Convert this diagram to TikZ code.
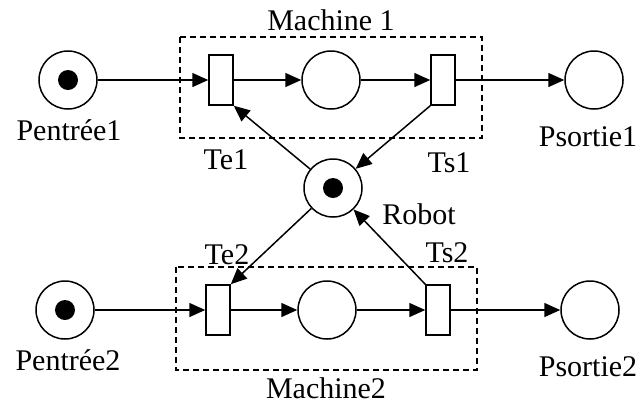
\documentclass[tikz,border=0pt]{standalone}
\usepackage{fontspec}
\setmainfont{Liberation Serif}
\newfontfamily\labelfont{Liberation Serif}
\usetikzlibrary{arrows.meta}
\begin{document}
\begin{tikzpicture}[x=0.5pt,y=-0.5pt,
  font=\labelfont\fontsize{15}{18}\selectfont,
  place/.style={draw,circle,line width=0.75pt,minimum size=29pt,inner sep=0pt},
  trans/.style={draw,rectangle,line width=0.75pt,minimum width=12pt,minimum height=25pt,inner sep=0pt},
  token/.style={fill=black,circle,minimum size=10pt,inner sep=0pt},
  arc/.style={draw,line width=0.75pt,-{Triangle[length=8pt,width=7pt]}},
  group/.style={draw,line width=0.75pt,dash pattern=on 3pt off 2pt},
  lbl/.style={inner sep=0pt}]
\useasboundingbox (0,0) rectangle (641,408);

% machine boundaries
\draw[group] (180,37) rectangle (482,138);
\draw[group] (176,267) rectangle (477,370);

% places
\node[place] (pe1) at (68,80) {};
\node[place] (m1)  at (331,80) {};
\node[place] (ps1) at (594,80) {};
\node[place] (rob) at (333,188) {};
\node[place] (pe2) at (65,310) {};
\node[place] (m2)  at (327,310) {};
\node[place] (ps2) at (590,310) {};

% tokens
\node[token] (k1) at (pe1) {};
\node[token] (k2) at (rob) {};
\node[token] (k3) at (pe2) {};

% transitions
\node[trans] (te1) at (221,80) {};
\node[trans] (ts1) at (443,80) {};
\node[trans] (te2) at (218,310) {};
\node[trans] (ts2) at (438,310) {};

% arcs
\draw[arc] (pe1) -- (te1);
\draw[arc] (te1) -- (m1);
\draw[arc] (m1) -- (ts1);
\draw[arc] (ts1) -- (ps1);
\draw[arc] (pe2) -- (te2);
\draw[arc] (te2) -- (m2);
\draw[arc] (m2) -- (ts2);
\draw[arc] (ts2) -- (ps2);
\draw[arc] (rob) -- (te1.south east);
\draw[arc] (ts1.south west) -- (rob);
\draw[arc] (rob) -- (te2.north east);
\draw[arc] (ts2.north west) -- (rob);

% labels
\node[lbl] (lm1) at (331,20) {Machine 1};
\node[lbl] (lm2) at (326,388) {Machine2};
\node[lbl] (lpe1) at (69,130) {Pentrée1};
\node[lbl] (lps1) at (588,137) {Psortie1};
\node[lbl] (lte1) at (226,160) {Te1};
\node[lbl] (lts1) at (449,163) {Ts1};
\node[lbl] (lrob) at (419,214) {Robot};
\node[lbl] (lte2) at (227,255) {Te2};
\node[lbl] (lts2) at (447,253) {Ts2};
\node[lbl] (lpe2) at (68,360) {Pentrée2};
\node[lbl] (lps2) at (588,367) {Psortie2};
\end{tikzpicture}
\end{document}
